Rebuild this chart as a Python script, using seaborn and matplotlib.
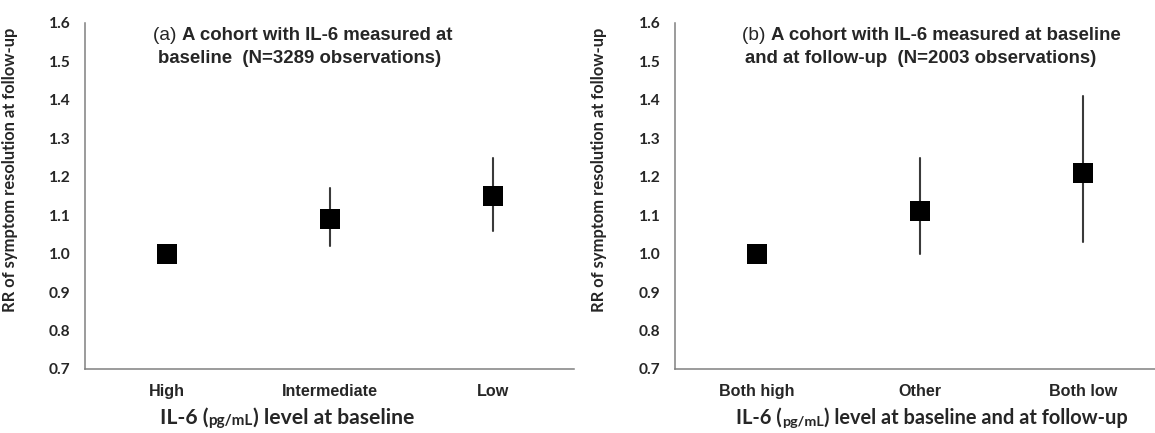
import matplotlib
matplotlib.use("Agg")
import matplotlib.pyplot as plt
import seaborn as sns
import pandas as pd

# ---- data ----
cats_a = ["High", "Intermediate", "Low"]
rr_a = [1.00, 1.09, 1.15]
lo_a = [1.00, 1.02, 1.06]
hi_a = [1.00, 1.17, 1.25]

cats_b = ["Both high", "Other", "Both low"]
rr_b = [1.00, 1.11, 1.21]
lo_b = [1.00, 1.00, 1.03]
hi_b = [1.00, 1.25, 1.41]

yticks = [0.7, 0.8, 0.9, 1.0, 1.1, 1.2, 1.3, 1.4, 1.5, 1.6]
ylabel = "RR of symptom resolution at follow-up"

sns.set_style("white")
plt.rcParams["font.family"] = ["Liberation Sans", "DejaVu Sans"]

AXC = "#808080"
CAL = ["Lato", "DejaVu Sans"]


def long_form(cats, rr, lo, hi):
    rows = []
    for c, e, l, h in zip(cats, rr, lo, hi):
        for v in (l, e, h):
            rows.append({"cat": c, "rr": v})
    return pd.DataFrame(rows)


fig = plt.figure(figsize=(11.55, 4.33), dpi=100)
ax_a = fig.add_axes([85 / 1155, 64 / 433, 489 / 1155, 346 / 433])
ax_b = fig.add_axes([675 / 1155, 64 / 433, 490 / 1155, 346 / 433])


def draw(ax, cats, rr, lo, hi, label_x):
    df = long_form(cats, rr, lo, hi)
    sns.pointplot(data=df, x="cat", y="rr", order=cats, estimator="median",
                  errorbar=("pi", 100), markers="s", linestyles="none",
                  color="black", markersize=14.4, markeredgewidth=0,
                  err_kws={"color": "#3a3a3a", "linewidth": 1.5, "zorder": 1},
                  ax=ax)
    ax.set_ylim(0.7, 1.6)
    ax.set_xlim(-0.5, 2.5)
    ax.set_yticks(yticks)
    ax.set_yticklabels([f"{v:.1f}" for v in yticks], fontfamily=CAL,
                       fontweight="bold", fontsize=11.2)
    ax.set_xticks([-0.5, 0.5, 1.5, 2.5])
    ax.set_xticklabels([])
    ax.set_xticks([0, 1, 2], minor=True)
    ax.set_xticklabels(cats, minor=True, fontweight="bold", fontsize=11.6)
    ax.tick_params(axis="x", which="minor", length=0, pad=11)
    ax.tick_params(axis="x", which="major", length=5, width=1.1, color=AXC,
                   direction="out")
    ax.tick_params(axis="y", length=5, width=1.1, color=AXC, direction="out",
                   pad=5.5)
    for s in ("top", "right"):
        ax.spines[s].set_visible(False)
    for s in ("left", "bottom"):
        ax.spines[s].set_color(AXC)
        ax.spines[s].set_linewidth(1.1)
    ax.set_xlabel("")
    ax.set_ylabel(ylabel, fontfamily=CAL, fontweight="bold", fontsize=11.9)
    ax.yaxis.set_label_coords(label_x, 0.575)


draw(ax_a, cats_a, rr_a, lo_a, hi_a, -0.137)
draw(ax_b, cats_b, rr_b, lo_b, hi_b, -0.139)


def rich(x, y, pieces):
    first_s, first_kw = pieces[0]
    prev = fig.text(x, y, first_s, va="bottom", ha="left", **first_kw)
    for s, kw in pieces[1:]:
        prev = plt.annotate(s, xy=(1, 0), xycoords=prev, va="bottom",
                            ha="left", annotation_clip=False, **kw)
    return prev


TB = {"fontsize": 13.4, "fontweight": "bold"}
TR = {"fontsize": 13.8, "fontweight": "normal"}

rich(153 / 1155, 1 - 44 / 433, [("(a) ", TR), ("A cohort with IL-6 measured at", TB)])
rich(158 / 1155, 1 - 67 / 433, [("baseline  (N=3289 observations)", TB)])
rich(742 / 1155, 1 - 44 / 433, [("(b) ", TR), ("A cohort with IL-6 measured at baseline", TB)])
rich(745 / 1155, 1 - 67 / 433, [("and at follow-up  (N=2003 observations)", TB)])

XBa = {"fontsize": 15.2, "fontweight": "bold", "fontfamily": CAL}
XSa = {"fontsize": 11, "fontweight": "bold", "fontfamily": CAL}
XBb = {"fontsize": 14.4, "fontweight": "bold", "fontfamily": CAL}
XSb = {"fontsize": 10.4, "fontweight": "bold", "fontfamily": CAL}
rich(160 / 1155, 5 / 433, [("IL-6 (", XBa), ("pg/mL", XSa), (") level at baseline", XBa)])
rich(736 / 1155, 5 / 433, [("IL-6 (", XBb), ("pg/mL", XSb), (") level at baseline and at follow-up", XBb)])

fig.savefig("out.png", dpi=100)
